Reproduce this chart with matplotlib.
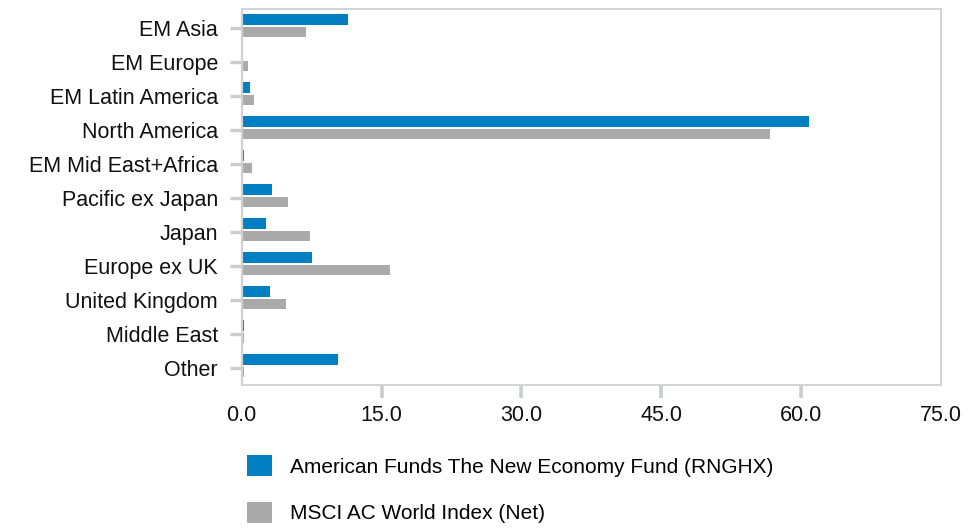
import matplotlib
matplotlib.use("Agg")
import matplotlib.pyplot as plt
import numpy as np

plt.rcParams['font.family'] = ['Liberation Sans', 'DejaVu Sans']

regions = ["EM Asia", "EM Europe", "EM Latin America", "North America",
           "EM Mid East+Africa", "Pacific ex Japan", "Japan", "Europe ex UK",
           "United Kingdom", "Middle East", "Other"]
fund_name = "American Funds The New Economy Fund (RNGHX)"
index_name = "MSCI AC World Index (Net)"
fund_weights = [11.4, 0.0, 0.9, 60.8, 0.25, 3.25, 2.6, 7.55, 3.0, 0.25, 10.35]
index_weights = [6.9, 0.7, 1.3, 56.7, 1.1, 5.0, 7.3, 15.9, 4.75, 0.25, 0.2]
x_ticks = [0.0, 15.0, 30.0, 45.0, 60.0, 75.0]

blue = "#0080C3"
grey = "#AAAAAA"
frame = "#D0D0D0"
tickc = "#C8CDD2"
fs = 15.5
legend_fs = 15

fig = plt.figure(figsize=(9.8, 5.29), dpi=100)
ax = fig.add_axes([0.2466, 0.2722, 0.9602 - 0.2466, 0.983 - 0.2722])

pos = np.arange(len(regions))
ax.barh(pos - 0.245, fund_weights, height=0.33, color=blue, label=fund_name)
ax.barh(pos + 0.13, index_weights, height=0.295, color=grey, label=index_name)

ax.set_ylim(10.5, -0.56)
ax.set_xlim(0, 75)
ax.set_yticks(pos)
ax.set_yticklabels(regions, fontsize=fs, color="#111111")
ax.set_xticks(x_ticks)
ax.set_xticklabels([f"{t:.1f}" for t in x_ticks], fontsize=fs, color="#111111")

for s in ax.spines.values():
    s.set_color(frame)
    s.set_linewidth(1.3)
ax.spines['left'].set_linewidth(1.6)

ax.tick_params(axis='y', length=9, width=2.4, color=tickc, pad=8)
ax.tick_params(axis='x', length=9.4, width=2.6, color=tickc, pad=5)
# no tick marks at the two ends of the x axis
xt = ax.xaxis.get_major_ticks()
xt[0].tick1line.set_visible(False)
xt[-1].tick1line.set_visible(False)

fig.legend(loc="upper left", bbox_to_anchor=(0.252, 0.140), frameon=False,
           fontsize=legend_fs, handlelength=1.2, handleheight=1.2,
           handletextpad=0.85, labelspacing=1.2, borderpad=0, borderaxespad=0)

fig.savefig("out.png", dpi=100)
